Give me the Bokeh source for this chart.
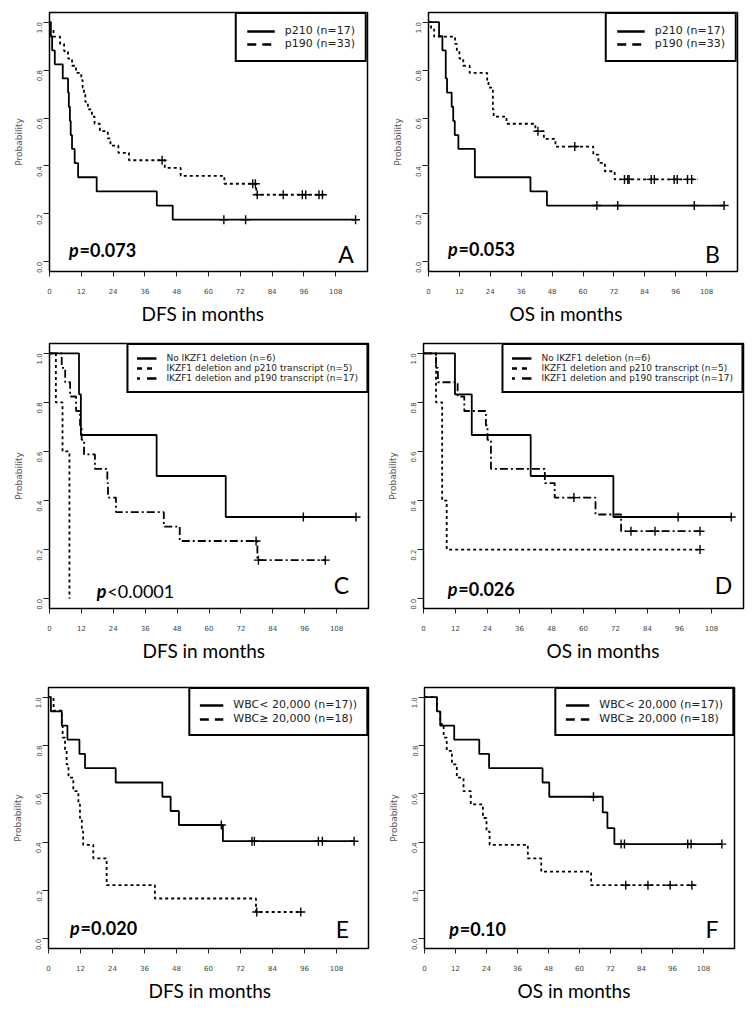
import math
from bokeh.plotting import figure
from bokeh.models import Range1d, FixedTicker, PrintfTickFormatter, Label, Legend, LegendItem, Title
from bokeh.layouts import column, row
from bokeh.embed import file_html
from bokeh.resources import INLINE

# ---------------- data ----------------
MONTH_TICKS = [0, 12, 24, 36, 48, 60, 72, 84, 96, 108]
PROB_TICKS = [0.0, 0.2, 0.4, 0.6, 0.8, 1.0]

PANEL_LETTERS = ["A", "B", "C", "D", "E", "F"]
X_TITLES = ["DFS in months", "OS in months", "DFS in months", "OS in months",
            "DFS in months", "OS in months"]
P_VALUES = ["=0.073", "=0.053", "<0.0001", "=0.026", "=0.020", "=0.10"]

LEG_TRANSCRIPT = ["p210 (n=17)", "p190 (n=33)"]
LEG_IKZF1 = ["No IKZF1 deletion (n=6)", "IKZF1 deletion and p210 transcript (n=5)",
             "IKZF1 deletion and p190 transcript (n=17)"]
LEG_WBC = ["WBC< 20,000 (n=17))", "WBC\u2265 20,000 (n=18)"]

# Panel A (DFS by transcript)
A_P210_T = [0, 0.5, 1, 2, 5, 7, 7.3, 7.7, 8, 8.5, 9.5, 10.8, 17.8, 40.5, 46.5]
A_P210_S = [1, .941, .882, .824, .765, .706, .647, .588, .529, .471, .412, .353, .294, .235, .176]
A_P210_END = 115.5
A_P210_CENS = [65.8, 74, 115.5]
A_P190_T = [0, 0.3, 1.5, 4, 5.5, 7, 8.5, 10, 12, 12.5, 13, 13.5, 14.5, 16, 17, 19, 22, 23, 26, 30,
            43.5, 49.5, 66, 78]
A_P190_S = [1, .970, .939, .909, .879, .848, .818, .788, .758, .727, .697, .667, .636, .606, .576,
            .545, .515, .485, .455, .424, .392, .359, .326, .280]
A_P190_END = 104
A_P190_CENS = [42.5, 76.7, 77.7, 78.4, 88.2, 95.4, 96.7, 101.7, 103]

# Panel B (OS by transcript)
B_P210_T = [0, 4.1, 5.4, 6.7, 7.2, 9, 9.6, 10.2, 11.6, 18, 39.6, 46]
B_P210_S = [1, .941, .882, .765, .706, .647, .588, .529, .471, .353, .294, .235]
B_P210_END = 114.8
B_P210_CENS = [65.4, 73.5, 103.2, 114.8]
B_P190_T = [0, 1, 2.2, 10.3, 11, 12, 13.5, 16, 22.8, 23.3, 25, 25.3, 30.3, 41.5, 44.8, 49.3,
            64, 66, 68.5, 72.3]
B_P190_S = [1, .970, .939, .909, .879, .848, .818, .788, .758, .727, .636, .606, .576, .545,
            .513, .481, .447, .413, .378, .344]
B_P190_END = 104.5
B_P190_CENS = [42.5, 56.8, 76.1, 77.4, 77.9, 86.5, 87.7, 95.4, 96.6, 100.6, 102.2]

# Panel C (DFS by IKZF1)
C_NODEL_T = [0, 11.1, 11.8, 40.3, 66.3]
C_NODEL_S = [1, .833, .667, .5, .333]
C_NODEL_END = 115.3
C_NODEL_CENS = [95.5, 115.3]
C_P210_T = [0, 2.4, 4.9, 7.5]
C_P210_S = [1, .8, .6, 0]
C_P210_END = 7.5
C_P210_CENS = []
C_P190_T = [0, 4.6, 5.9, 7.75, 10, 11.5, 12.1, 13, 17.1, 21.75, 22, 25, 43, 49, 78.2]
C_P190_S = [1, .941, .882, .824, .765, .706, .647, .588, .529, .471, .412, .353, .294, .235, .157]
C_P190_END = 103.75
C_P190_CENS = [77.7, 78.6, 103.75]

# Panel D (OS by IKZF1)
D_NODEL_T = [0, 11.8, 18.1, 40.2, 71.2]
D_NODEL_S = [1, .833, .667, .5, .333]
D_NODEL_END = 115.4
D_NODEL_CENS = [95.5, 115.4]
D_P210_T = [0, 4.7, 7, 8.7]
D_P210_S = [1, .8, .4, .2]
D_P210_END = 103.7
D_P210_CENS = [103.7]
D_P190_T = [0, 4.7, 5.4, 12.8, 15.3, 23.4, 24, 25.3, 45.5, 49.2, 64.5, 74.1]
D_P190_S = [1, .941, .882, .824, .765, .706, .647, .529, .471, .412, .343, .275]
D_P190_END = 103.7
D_P190_CENS = [56.4, 77.8, 86.8, 103.7]

# Panel E (DFS by WBC)
E_LOW_T = [0, 0.9, 5, 7.1, 11.6, 13.7, 25.2, 42.7, 45.8, 48.9, 65.4]
E_LOW_S = [1, .941, .882, .824, .765, .706, .647, .588, .529, .471, .404]
E_LOW_END = 114.6
E_LOW_CENS = [64.8, 76.3, 77.2, 101.2, 102.7, 114.6]
E_HIGH_T = [0, 1.9, 5, 5.3, 6.2, 6.8, 7.5, 9.3, 11.2, 11.8, 12.5, 13, 16.8, 21.8, 39.9, 77.8]
E_HIGH_S = [1, .944, .889, .833, .778, .722, .667, .611, .556, .5, .444, .389, .333, .222, .167, .111]
E_HIGH_END = 94.6
E_HIGH_CENS = [78.1, 94.6]

# Panel F (OS by WBC)
F_LOW_T = [0, 4.8, 6.1, 11.5, 21.2, 25, 45.7, 48.3, 69, 70.8, 73.5]
F_LOW_S = [1, .941, .882, .824, .765, .706, .647, .588, .523, .458, .392]
F_LOW_END = 115.1
F_LOW_CENS = [65.4, 76.1, 77.4, 101.9, 103.2, 115.1]
F_HIGH_T = [0, 4.8, 6.1, 7.4, 8.6, 10.6, 12.5, 15.1, 17.9, 22.6, 24, 25.2, 40, 45.2, 64.5]
F_HIGH_S = [1, .944, .889, .833, .778, .722, .667, .611, .556, .5, .444, .389, .333, .278, .222]
F_HIGH_END = 104.8
F_HIGH_CENS = [77.9, 86.5, 95.1, 103.5]

# ---------------- styles ----------------
SOLID = "solid"
DOTTED = "3 3"
DASHDOT = "8 3 2 3"
LEG_DOTTED_WIDE = "9 6"
LEG_DOTTED_NARROW = "5 5"
LEG_DASHDOT = "3 7 10 3"
NAN = float("nan")


def level_at(ts, ss, x):
    lvl = ss[0]
    for t, s in zip(ts, ss):
        if x >= t:
            lvl = s
    return lvl


def km(p, ts, ss, end, cens, dash):
    xs = list(ts) + [end]
    ys = list(ss) + [ss[-1]]
    p.step(xs, ys, mode="after", line_color="black", line_width=1.8, line_dash=dash)
    if cens:
        cy = [level_at(ts, ss, c) for c in cens]
        p.scatter(cens, cy, marker="cross", size=9, line_color="black", line_width=1.4)


def make_fig(w, h, bl, br, bt, bb):
    p = figure(width=w, height=h, x_range=Range1d(0, 120), y_range=Range1d(-0.04, 1.04),
               output_backend="svg", toolbar_location=None,
               min_border_left=bl, min_border_right=br, min_border_top=bt, min_border_bottom=bb)
    p.grid.visible = False
    p.background_fill_color = "white"
    p.border_fill_color = "white"
    p.outline_line_color = "black"
    p.outline_line_alpha = 1.0
    p.outline_line_width = 1.5
    p.xaxis.ticker = FixedTicker(ticks=MONTH_TICKS)
    p.yaxis.ticker = FixedTicker(ticks=PROB_TICKS)
    p.yaxis.formatter = PrintfTickFormatter(format="%.1f")
    for ax in (p.xaxis[0], p.yaxis[0]):
        ax.axis_line_color = None
        ax.major_tick_in = 0
        ax.major_tick_line_color = "#222"
        ax.minor_tick_line_color = None
        ax.major_label_text_font = "DejaVu Sans"
        ax.major_label_text_font_size = "7px"
        ax.major_label_text_color = "#444"
    p.xaxis.major_tick_out = 5
    p.xaxis.major_label_standoff = 11
    p.yaxis.major_tick_out = 6
    p.yaxis.major_label_standoff = 4
    p.yaxis.major_label_orientation = math.pi / 2
    p.yaxis.axis_label = "Probability"
    p.yaxis.axis_label_text_font = "DejaVu Sans"
    p.yaxis.axis_label_text_font_size = "9px"
    p.yaxis.axis_label_text_font_style = "normal"
    p.yaxis.axis_label_text_color = "#555"
    p.yaxis.axis_label_standoff = 7
    return p


def add_legend(p, labels, dashes, font_size, glyph_w, pad, spacing):
    items = []
    for lab, dash in zip(labels, dashes):
        r = p.line(x=[NAN, NAN], y=[NAN, NAN], line_color="black", line_width=2.6, line_dash=dash)
        items.append(LegendItem(label=lab, renderers=[r]))
    lg = Legend(items=items, location="top_right", margin=0, padding=pad, spacing=spacing,
                glyph_width=glyph_w, glyph_height=10, label_height=10, label_standoff=10,
                label_text_font="DejaVu Sans", label_text_font_size=font_size,
                label_text_color="#222", border_line_color="black", border_line_alpha=1.0,
                border_line_width=2,
                background_fill_color="white", background_fill_alpha=1.0)
    p.add_layout(lg)


def annotate(p, letter, letter_xy, ptxt, p_xy, bold, title, title_offset):
    p.add_layout(Label(x=p_xy[0], y=p_xy[1], text="p", text_font="Lato", text_color="black",
                       text_font_size="18px", text_font_style="bold italic",
                       text_baseline="middle", text_align="left"))
    p.add_layout(Label(x=p_xy[0], y=p_xy[1], x_offset=10.5, text=ptxt, text_font="Lato",
                       text_color="black", text_font_size="18px",
                       text_font_style="bold" if bold else "normal",
                       text_baseline="middle", text_align="left"))
    p.add_layout(Label(x=letter_xy[0], y=letter_xy[1], text=letter, text_font="Lato",
                       text_color="black", text_font_size="23px",
                       text_baseline="middle", text_align="right"))
    p.add_layout(Title(text=title, align="left", offset=title_offset, standoff=7,
                       text_font="Lato", text_font_size="19px", text_font_style="normal",
                       text_color="black"), "below")


# Panel A
pA = make_fig(377, 340, 49, 10, 12, 68)
km(pA, A_P210_T, A_P210_S, A_P210_END, A_P210_CENS, SOLID)
km(pA, A_P190_T, A_P190_S, A_P190_END, A_P190_CENS, DOTTED)
add_legend(pA, LEG_TRANSCRIPT, [SOLID, LEG_DOTTED_WIDE], "11px", 28, 10, 0)
annotate(pA, PANEL_LETTERS[0], (114.8, 0.035), P_VALUES[0], (7.4, 0.051), True, X_TITLES[0], 92)

# Panel B
pB = make_fig(377, 340, 51, 17, 11, 69)
km(pB, B_P210_T, B_P210_S, B_P210_END, B_P210_CENS, SOLID)
km(pB, B_P190_T, B_P190_S, B_P190_END, B_P190_CENS, DOTTED)
add_legend(pB, LEG_TRANSCRIPT, [SOLID, LEG_DOTTED_WIDE], "11px", 28, 10, 0)
annotate(pB, PANEL_LETTERS[1], (113.2, 0.035), P_VALUES[1], (7.6, 0.053), True, X_TITLES[1], 81)

# Panel C
pC = make_fig(377, 336, 49, 9, 3, 68)
km(pC, C_NODEL_T, C_NODEL_S, C_NODEL_END, C_NODEL_CENS, SOLID)
km(pC, C_P210_T, C_P210_S, C_P210_END, C_P210_CENS, DOTTED)
km(pC, C_P190_T, C_P190_S, C_P190_END, C_P190_CENS, DASHDOT)
add_legend(pC, LEG_IKZF1, [SOLID, LEG_DOTTED_NARROW, LEG_DASHDOT], "9px", 20, 8, 0)
annotate(pC, PANEL_LETTERS[2], (112.7, 0.055), P_VALUES[2], (17.8, 0.031), False, X_TITLES[2], 93)

# Panel D
pD = make_fig(377, 336, 46, 11, 3, 68)
km(pD, D_NODEL_T, D_NODEL_S, D_NODEL_END, D_NODEL_CENS, SOLID)
km(pD, D_P210_T, D_P210_S, D_P210_END, D_P210_CENS, DOTTED)
km(pD, D_P190_T, D_P190_S, D_P190_END, D_P190_CENS, DASHDOT)
add_legend(pD, LEG_IKZF1, [SOLID, LEG_DOTTED_NARROW, LEG_DASHDOT], "9px", 20, 8, 0)
annotate(pD, PANEL_LETTERS[3], (115.8, 0.056), P_VALUES[3], (9.1, 0.041), True, X_TITLES[3], 123)

# Panel E
pE = make_fig(377, 338, 48, 9, 11, 64)
km(pE, E_LOW_T, E_LOW_S, E_LOW_END, E_LOW_CENS, SOLID)
km(pE, E_HIGH_T, E_HIGH_S, E_HIGH_END, E_HIGH_CENS, DOTTED)
add_legend(pE, LEG_WBC, [SOLID, LEG_DOTTED_WIDE], "11px", 24, 9, 1)
annotate(pE, PANEL_LETTERS[4], (112.7, 0.042), P_VALUES[4], (8.1, 0.044), True, X_TITLES[4], 100)

# Panel F
pF = make_fig(377, 338, 47, 20, 9, 66)
km(pF, F_LOW_T, F_LOW_S, F_LOW_END, F_LOW_CENS, SOLID)
km(pF, F_HIGH_T, F_HIGH_S, F_HIGH_END, F_HIGH_CENS, DOTTED)
add_legend(pF, LEG_WBC, [SOLID, LEG_DOTTED_WIDE], "11px", 24, 9, 1)
annotate(pF, PANEL_LETTERS[5], (113.8, 0.039), P_VALUES[5], (9.6, 0.041), True, X_TITLES[5], 93)

layout = column(row(pA, pB), row(pC, pD), row(pE, pF))
open("out.html", "w").write(file_html(layout, INLINE))
